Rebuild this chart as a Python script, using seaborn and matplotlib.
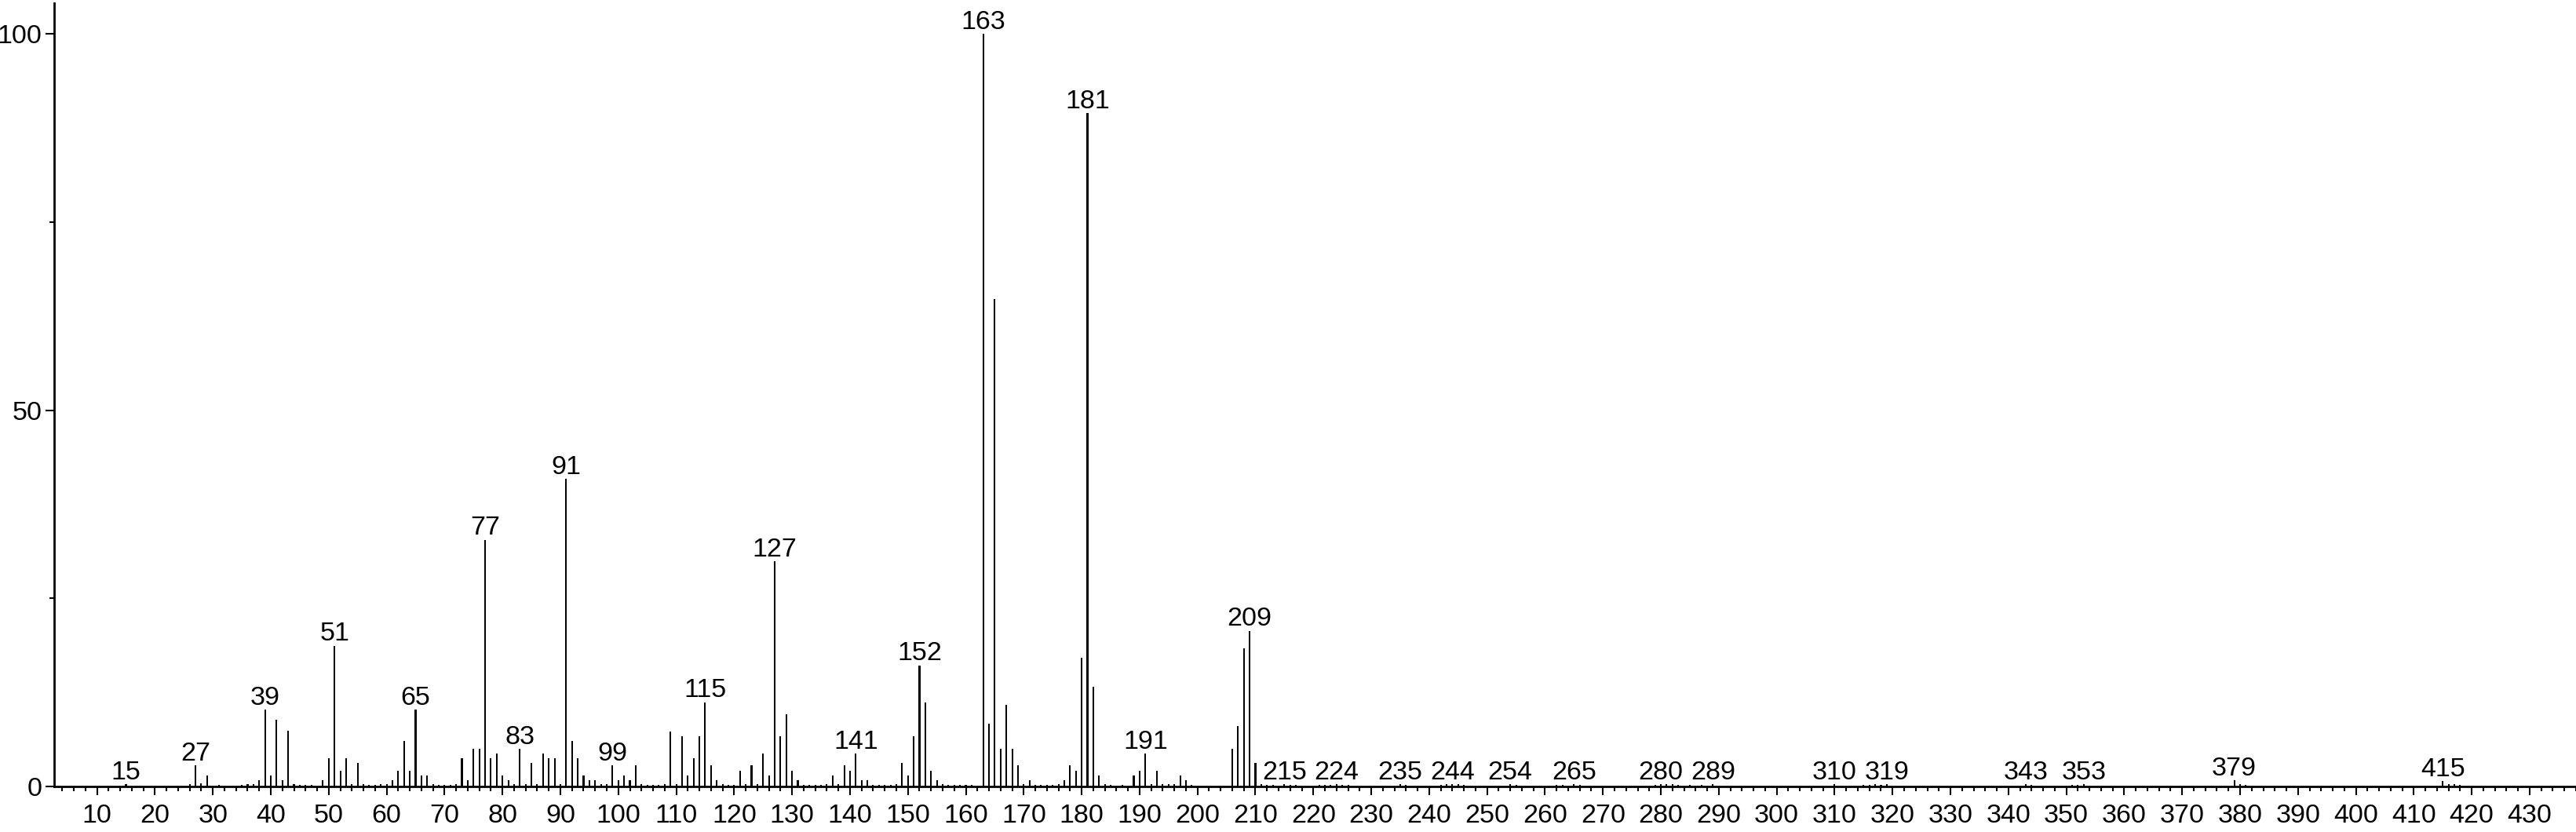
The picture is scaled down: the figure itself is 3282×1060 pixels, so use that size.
import matplotlib
matplotlib.use("Agg")
import matplotlib.pyplot as plt
from matplotlib.ticker import MultipleLocator, FixedLocator
import seaborn as sns
import pandas as pd

# ---- data (m/z, relative intensity %) ----
mz = [15, 26, 27, 28, 29, 31, 35, 36, 37, 38, 39, 40, 41, 42, 43, 44, 45, 46, 47,
      49, 50, 51, 52, 53, 54, 55, 56, 57, 58, 59, 60, 61, 62, 63, 64, 65, 66, 67,
      68, 69, 70, 71, 72, 73, 74, 75, 76, 77, 78, 79, 80, 81, 82, 83, 84, 85, 86,
      87, 88, 89, 90, 91, 92, 93, 94, 95, 96, 97, 98, 99, 100, 101, 102, 103, 104,
      105, 106, 107, 108, 109, 110, 111, 112, 113, 114, 115, 116, 117, 118, 119,
      120, 121, 122, 123, 124, 125, 126, 127, 128, 129, 130, 131, 132, 133, 134,
      135, 136, 137, 138, 139, 140, 141, 142, 143, 144, 145, 146, 147, 148, 149,
      150, 151, 152, 153, 154, 155, 156, 157, 158, 159, 160, 161, 163, 164, 165,
      166, 167, 168, 169, 170, 171, 172, 173, 174, 175, 176, 177, 178, 179, 180,
      181, 182, 183, 184, 185, 187, 189, 190, 191, 192, 193, 194, 195, 196, 197,
      198, 199, 206, 207, 208, 209, 210, 211, 212, 213, 215, 216, 217, 221, 222,
      223, 224, 225, 226, 235, 236, 242, 243, 244, 245, 246, 254, 255, 262, 263,
      265, 266, 279, 280, 281, 282, 283, 285, 287, 289, 310, 315, 316, 317, 318,
      319, 343, 344, 351, 352, 353, 379, 380, 381, 415, 416, 417, 418]
intensity = [0.3, 0.3, 2.8, 0.4, 1.5, 0.2, 0.2, 0.3, 0.3, 0.8, 10.2, 1.5, 8.9, 0.8,
             7.4, 0.3, 0.2, 0.2, 0.2, 0.8, 3.75, 18.7, 2.1, 3.75, 0.3, 3.1, 0.3, 0.2,
             0.2, 0.3, 0.3, 0.8, 2.1, 6.0, 2.1, 10.2, 1.5, 1.5, 0.3, 0.2, 0.2, 0.2,
             0.3, 3.75, 0.8, 5.0, 5.0, 32.8, 3.75, 4.4, 1.5, 0.8, 0.3, 5.0, 0.3, 3.1,
             0.3, 4.4, 3.75, 3.75, 0.3, 40.9, 6.0, 3.75, 1.5, 0.8, 0.8, 0.3, 0.3, 2.8,
             0.8, 1.5, 0.8, 2.8, 0.3, 0.2, 0.2, 0.2, 0.3, 7.3, 0.3, 6.7, 1.5, 3.75,
             6.7, 11.2, 2.8, 0.8, 0.3, 0.2, 0.2, 2.1, 0.3, 2.8, 0.3, 4.4, 1.5, 29.9,
             6.7, 9.6, 2.1, 0.8, 0.2, 0.2, 0.2, 0.2, 0.3, 1.5, 0.3, 2.8, 2.1, 4.4,
             0.8, 0.8, 0.2, 0.2, 0.2, 0.2, 0.3, 3.1, 1.5, 6.7, 16.1, 11.2, 2.1, 0.8,
             0.3, 0.2, 0.2, 0.2, 0.2, 0.2, 100.0, 8.3, 64.8, 5.0, 10.9, 5.0, 2.8, 0.3,
             0.8, 0.2, 0.2, 0.2, 0.2, 0.3, 0.8, 2.8, 2.1, 17.1, 89.5, 13.2, 1.5, 0.3,
             0.2, 0.2, 1.5, 2.1, 4.4, 0.3, 2.1, 0.3, 0.3, 0.3, 1.5, 0.8, 0.2, 5.0,
             8.0, 18.4, 20.7, 3.1, 0.3, 0.2, 0.2, 0.3, 0.2, 0.2, 0.2, 0.2, 0.2, 0.3,
             0.2, 0.2, 0.3, 0.2, 0.2, 0.3, 0.3, 0.3, 0.2, 0.3, 0.2, 0.2, 0.2, 0.3,
             0.2, 0.2, 0.3, 0.3, 0.3, 0.2, 0.2, 0.2, 0.3, 0.3, 0.2, 0.2, 0.3, 0.2,
             0.3, 0.3, 0.2, 0.2, 0.2, 0.3, 0.8, 0.3, 0.2, 0.75, 0.3, 0.3, 0.2]

labeled_mz = [15, 27, 39, 51, 65, 77, 83, 91, 99, 115, 127, 141, 152, 163, 181,
              191, 209, 215, 224, 235, 244, 254, 265, 280, 289, 310, 319, 343,
              353, 379, 415]

y_ticks = [0, 50, 100]
y_minor_ticks = [25, 75]

df = pd.DataFrame({"mz": mz, "intensity": intensity})

sns.set_style("ticks")
plt.rcParams["font.family"] = ["Liberation Sans", "DejaVu Sans"]

fig = plt.figure(figsize=(32.82, 10.60), dpi=100)
ax = fig.add_axes([69 / 3282, 58 / 1060, 1 - 69 / 3282, (1002 - 4) / 1060])

sns.barplot(data=df, x="mz", y="intensity", native_scale=True, width=0.28,
            color="black", saturation=1, linewidth=0, errorbar=None, ax=ax)

lookup = dict(zip(mz, intensity))
for m in labeled_mz:
    ax.annotate(str(m), xy=(m, lookup[m]), xytext=(0, 4.5),
                textcoords="offset points", ha="center", va="baseline",
                fontsize=24.5, color="black")

ax.set_xlim(2.6, 438)
ax.set_ylim(0, 104.1)
ax.xaxis.set_major_locator(MultipleLocator(10))
ax.xaxis.set_minor_locator(MultipleLocator(2))
ax.yaxis.set_major_locator(FixedLocator(y_ticks))
ax.yaxis.set_minor_locator(FixedLocator(y_minor_ticks))

ax.tick_params(axis="both", which="major", direction="out", length=8, width=1.5,
               labelsize=24.5, color="black", labelcolor="black")
ax.tick_params(axis="x", which="major", pad=8)
ax.tick_params(axis="y", which="major", pad=3)
ax.tick_params(axis="both", which="minor", direction="out", length=4, width=1.5,
               color="black")

for side in ["top", "right"]:
    ax.spines[side].set_visible(False)
for side in ["left", "bottom"]:
    ax.spines[side].set_linewidth(2)
    ax.spines[side].set_color("black")

ax.set_xlabel("")
ax.set_ylabel("")
ax.set_facecolor("white")
fig.patch.set_facecolor("white")

fig.savefig("out.png", dpi=100)
